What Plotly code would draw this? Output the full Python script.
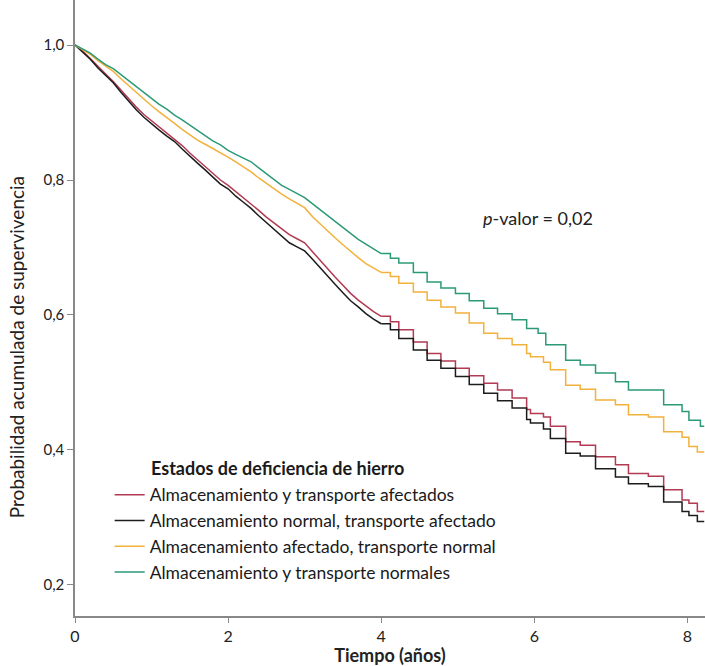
import plotly.graph_objects as go

# Kaplan-Meier style survival curves
t_early = [0.0, 0.1, 0.2, 0.3, 0.4, 0.5, 0.6, 0.7, 0.8, 0.9, 1.0, 1.1, 1.2, 1.3, 1.4, 1.5, 1.6, 1.7, 1.8, 1.9,
           2.0, 2.1, 2.2, 2.3, 2.4, 2.5, 2.6, 2.7, 2.8, 2.9, 3.0, 3.1, 3.2, 3.3, 3.4, 3.5, 3.6, 3.7, 3.8, 3.9, 4.0]

s_green_early = [1.000, .994, .988, .979, .971, .965, .956, .947, .938, .929, .920, .912, .905, .896, .889, .881,
                 .873, .866, .858, .852, .844, .838, .833, .827, .818, .809, .800, .792, .786, .780, .774, .765,
                 .756, .748, .739, .729, .720, .712, .705, .698, .691]
s_yellow_early = [1.000, .993, .986, .977, .969, .961, .950, .940, .929, .919, .910, .901, .893, .884, .875, .867,
                  .859, .853, .847, .840, .834, .827, .820, .812, .803, .795, .786, .779, .772, .766, .759, .746,
                  .735, .725, .714, .704, .694, .685, .676, .669, .663]
s_red_early = [1.000, .991, .980, .968, .957, .946, .933, .920, .908, .897, .888, .879, .870, .861, .851, .840,
               .830, .821, .810, .800, .792, .783, .774, .765, .755, .745, .736, .727, .719, .713, .707, .694,
               .681, .668, .656, .644, .632, .622, .613, .605, .598]
s_black_early = [1.000, .990, .979, .966, .955, .944, .930, .917, .904, .893, .883, .874, .865, .857, .846, .835,
                 .825, .815, .804, .794, .787, .776, .767, .758, .747, .737, .727, .716, .707, .701, .695, .683,
                 .670, .657, .645, .633, .621, .612, .602, .594, .587]

t_green_late = [4.12, 4.23, 4.42, 4.6, 4.78, 4.97, 5.15, 5.34, 5.52, 5.71, 5.9, 6.05, 6.15, 6.41, 6.6, 6.8,
                7.06, 7.23, 7.69, 7.93, 8.02, 8.17, 8.22]
s_green_late = [.684, .677, .663, .649, .640, .632, .621, .610, .602, .593, .580, .573, .556, .533, .526, .514,
                .501, .489, .467, .457, .444, .435, .435]

t_late = [4.12, 4.23, 4.42, 4.6, 4.78, 4.97, 5.15, 5.34, 5.52, 5.71, 5.9, 5.95, 6.12, 6.21, 6.41, 6.6, 6.8,
          7.06, 7.23, 7.49, 7.69, 7.93, 8.02, 8.13, 8.22]
s_yellow_late = [.657, .647, .634, .622, .612, .603, .588, .573, .565, .556, .543, .538, .530, .519, .496, .490,
                 .474, .467, .452, .449, .427, .419, .405, .397, .397]
s_red_late = [.590, .578, .560, .543, .532, .521, .510, .499, .489, .477, .460, .454, .449, .435, .412, .407,
              .390, .378, .365, .361, .341, .326, .321, .309, .309]
s_black_late = [.578, .565, .548, .533, .521, .509, .497, .484, .473, .462, .445, .440, .431, .417, .395, .391,
                .372, .360, .350, .346, .323, .309, .303, .294, .294]

series_names = ["Almacenamiento y transporte afectados",
                "Almacenamiento normal, transporte afectado",
                "Almacenamiento afectado, transporte normal",
                "Almacenamiento y transporte normales"]
series_colors = ["#b23a52", "#1c1c1c", "#f2b13a", "#2b9a78"]
series_t = [t_early + t_late, t_early + t_late, t_early + t_late, t_early + t_green_late]
series_s = [s_red_early + s_red_late, s_black_early + s_black_late,
            s_yellow_early + s_yellow_late, s_green_early + s_green_late]

x_ticks = [0, 2, 4, 6, 8]
y_ticks = [0.2, 0.4, 0.6, 0.8, 1.0]

FONT = "Lato"
SPLIT_T = 4.0  # before this time events are dense and the curve reads as a line

fig = go.Figure()
for i in range(4):
    ts, ss = series_t[i], series_s[i]
    k = ts.index(SPLIT_T)
    fig.add_trace(go.Scatter(
        x=ts[:k + 1], y=ss[:k + 1], mode="lines", name=series_names[i], showlegend=False,
        line=dict(color=series_colors[i], width=1.5, shape="linear"), legendgroup=str(i),
    ))
    fig.add_trace(go.Scatter(
        x=ts[k:], y=ss[k:], mode="lines", name=series_names[i], legendgroup=str(i),
        line=dict(color=series_colors[i], width=1.5, shape="hv"), legendrank=i + 1,
    ))

fig.update_layout(
    width=705, height=666,
    margin=dict(l=75, r=0, t=0, b=50),
    paper_bgcolor="white", plot_bgcolor="white",
    separators=",.",
    font=dict(family=FONT, size=16, color="#222"),
    showlegend=True,
    legend=dict(
        x=0.055, y=0.226, xanchor="left", yanchor="top",
        bgcolor="rgba(0,0,0,0)", font=dict(size=17.5, color="#1a1a1a"),
        itemwidth=30, tracegroupgap=0,
    ),
    xaxis=dict(
        range=[0, 8.23], tickvals=x_ticks, ticks="outside", ticklen=5, tickcolor="#888",
        showline=True, linecolor="#888", linewidth=1.5, showgrid=False, zeroline=False,
        tickfont=dict(size=16),
        title=dict(text="<b>Tiempo (años)</b>", font=dict(size=18), standoff=6),
    ),
    yaxis=dict(
        range=[0.154, 1.0667], tickvals=y_ticks, tickformat=".1f", ticks="outside", ticklen=6,
        tickcolor="#888", showline=True, linecolor="#888", linewidth=1.5, showgrid=False, zeroline=False,
        tickfont=dict(size=15),
    ),
    annotations=[
        dict(text="Probabilidad acumulada de supervivencia", xref="paper", yref="paper",
             x=-0.0925, y=0.436, xanchor="center", yanchor="middle", textangle=-90,
             showarrow=False, font=dict(size=19, color="#222")),
        dict(text="<i>p</i>-valor = 0,02", xref="x", yref="y", x=5.3, y=0.744,
             xanchor="left", yanchor="middle", showarrow=False, font=dict(size=18, color="#222")),
        dict(text="<b>Estados de deficiencia de hierro</b>", xref="paper", yref="paper",
             x=0.117, y=0.24, xanchor="left", yanchor="middle", showarrow=False,
             font=dict(size=18, color="#1a1a1a")),
    ],
)

fig.write_html("out.html")
